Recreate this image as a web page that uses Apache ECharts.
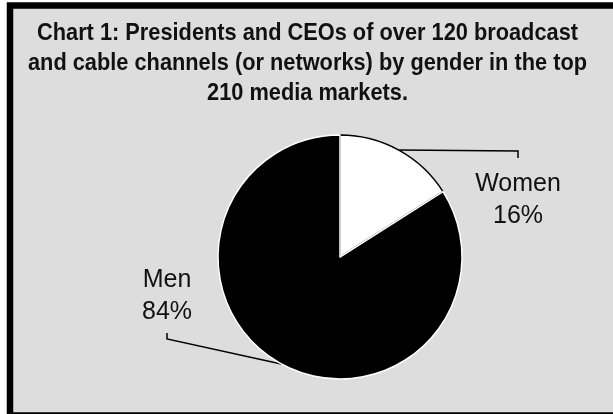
<!DOCTYPE html>
<html>
<head>
<meta charset="utf-8">
<script src="https://cdn.jsdelivr.net/npm/echarts@6/dist/echarts.min.js"></script>
<style>html,body{margin:0;padding:0;background:#fff}#c{width:613px;height:414px}</style>
</head>
<body>
<div id="c"></div>
<script>
const titleLines = [
  'Chart 1: Presidents and CEOs of over 120 broadcast',
  'and cable channels (or networks) by gender in the top',
  '210 media markets.'
];
const categories = ['Women', 'Men'];
const shares = [16, 84];
const sliceColors = ['#ffffff', '#000000'];

const chart = echarts.init(document.getElementById('c'), null, {renderer: 'canvas'});

// condensed bold title: measure natural width, squeeze to the reference width
const titleFont = 'bold 24px "Liberation Sans", Arial, sans-serif';
const mctx = document.createElement('canvas').getContext('2d');
mctx.font = titleFont;
const naturalW = mctx.measureText(titleLines[0]).width;
const titleScale = 541 / naturalW;

// label anchor positions (layout)
const labelPos = [
  {x: 518, y: 168},
  {x: 167, y: 264}
];

chart.setOption({
  backgroundColor: '#ffffff',
  animation: false,
  graphic: [{
    type: 'rect',
    z: -10,
    shape: {x: 10, y: 5.5, width: 620, height: 410},
    style: {fill: '#dddddd', stroke: '#000', lineWidth: 6.5}
  }, {
    type: 'text',
    z: 10,
    x: 307.5,
    y: 18.4,
    scaleX: titleScale,
    style: {
      text: titleLines.join('\n'),
      x: 0,
      y: 0,
      font: titleFont,
      lineHeight: 30,
      fill: '#111',
      align: 'center',
      verticalAlign: 'top'
    }
  }],
  series: [{
    type: 'pie',
    center: [340, 257],
    radius: 122,
    startAngle: 90,
    clockwise: true,
    data: categories.map((c, i) => ({
      name: c,
      value: shares[i],
      itemStyle: {
        color: sliceColors[i],
        borderColor: i === 0 ? '#000' : '#fff',
        borderWidth: 1.5
      }
    })),
    label: {
      show: true,
      formatter: p => p.name + '\n' + p.value + '%',
      fontFamily: '"Liberation Sans", Arial, sans-serif',
      fontSize: 25,
      lineHeight: 32,
      color: '#111',
      align: 'center'
    },
    labelLine: {
      show: true,
      lineStyle: {color: '#000', width: 1.5}
    },
    labelLayout: function (params) {
      const i = params.dataIndex;
      const pos = labelPos[i];
      const start = params.labelLinePoints ? params.labelLinePoints[0] : null;
      const res = {x: pos.x, y: pos.y, align: 'center', verticalAlign: 'top'};
      if (start) {
        if (i === 0) {
          res.labelLinePoints = [start, [pos.x, start[1] + 1], [pos.x, pos.y - 10]];
        } else {
          res.labelLinePoints = [start, [pos.x, pos.y + 75], [pos.x, pos.y + 69]];
        }
      }
      return res;
    }
  }]
});
</script>
</body>
</html>
